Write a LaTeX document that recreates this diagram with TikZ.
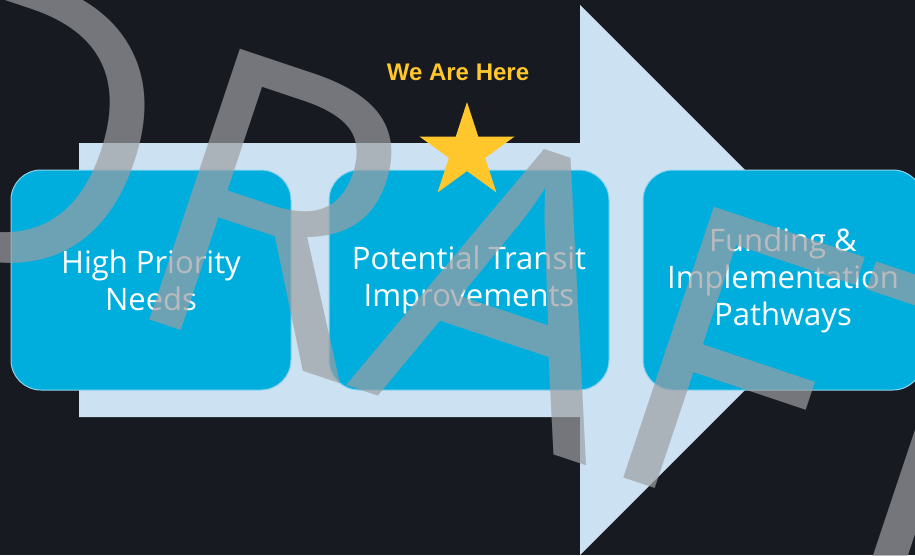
\documentclass[tikz,border=0pt]{standalone}
\usepackage{fontspec}
\setmainfont{Open Sans}
\newfontfamily\herefont{Liberation Sans}
\usetikzlibrary{shapes.geometric}

\definecolor{bgdark}{HTML}{171A21}
\definecolor{arrowblue}{HTML}{CCE2F2}
\definecolor{boxcyan}{HTML}{00AEDE}
\definecolor{boxedge}{HTML}{8FD3EC}
\definecolor{stargold}{HTML}{FFC72C}
\definecolor{draftgray}{HTML}{9C9EA3}

\tikzset{
	stagebox/.style={draw=boxedge, line width=1pt, fill=boxcyan, rounded corners=30pt,
		minimum width=280pt, minimum height=220pt, text=white, align=center,
		font=\fontsize{31}{37}\selectfont},
}

\begin{document}
\begin{tikzpicture}[x=1pt, y=-1pt]
		\useasboundingbox (0,0) rectangle (915,555);
		\clip (0,0) rectangle (915,555);
		\fill[bgdark] (0,0) rectangle (915,555);

		% arrow
		\coordinate (S1) at (79, 143);
		\coordinate (S2) at (580, 143);
		\coordinate (H1) at (580, 5);
		\coordinate (tip) at (855, 280);
		\coordinate (H2) at (580, 555);
		\coordinate (S3) at (580, 417);
		\coordinate (S4) at (79, 417);
		\fill[arrowblue] (S1) -- (S2) -- (H1) -- (tip) -- (H2) -- (S3) -- (S4) -- cycle;

		% stages
		\node[stagebox] (needs) at (151, 280) {High Priority\\Needs};
		\node[stagebox] (improve) at (469, 280) {Potential Transit\\Improvements};
		\node[stagebox] (funding) at (783, 280) {Funding \&\\Implementation\\Pathways};

		\node[star, star points=5, star point ratio=2.618, minimum size=100pt,
			inner sep=0pt, fill=stargold] (star) at (467, 152) {};
		\node[text=stargold, font=\herefont\bfseries\fontsize{24}{28}\selectfont]
			(here) at (458, 72) {We Are Here};

		% watermark
		\node[rotate=-18.5, anchor=base, text=draftgray, text opacity=0.7,
			font=\fontsize{400}{400}\selectfont] (draft) at (414, 408) {DRAFT};
	\end{tikzpicture}
\end{document}
